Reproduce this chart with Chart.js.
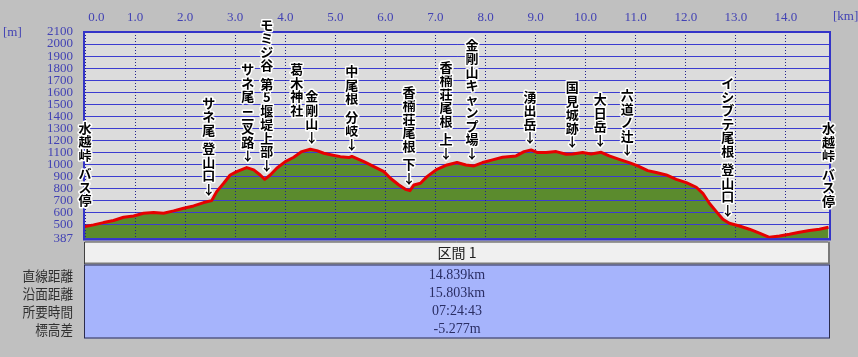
<!DOCTYPE html>
<html><head><meta charset="utf-8">
<script src="https://cdn.jsdelivr.net/npm/chart.js@4"></script>
<style>html,body{margin:0;padding:0;background:#c0c0c0;}canvas{display:block;}</style>
</head><body>
<canvas id="c" width="858" height="357"></canvas>
<script>
// ---- data ----
const distanceKm = [0, 0.17, 0.37, 0.57, 0.77, 0.97, 1.17, 1.37, 1.57, 1.77, 1.97, 2.17, 2.37, 2.53, 2.63, 2.77, 2.9, 3.03, 3.23, 3.37, 3.5, 3.59, 3.7, 3.83, 4.0, 4.17, 4.33, 4.5, 4.63, 4.77, 4.93, 5.1, 5.27, 5.33, 5.57, 5.77, 5.97, 6.1, 6.27, 6.4, 6.49, 6.57, 6.7, 6.83, 7.03, 7.23, 7.43, 7.61, 7.77, 7.94, 8.14, 8.34, 8.61, 8.77, 8.91, 9.04, 9.21, 9.41, 9.61, 9.74, 9.94, 10.11, 10.31, 10.47, 10.67, 10.87, 11.04, 11.24, 11.41, 11.61, 11.81, 12.01, 12.21, 12.34, 12.47, 12.61, 12.74, 12.87, 13.07, 13.27, 13.47, 13.67, 13.87, 14.07, 14.27, 14.47, 14.67, 14.85];
const elevationM = [486, 500, 519, 536, 563, 574, 596, 602, 596, 616, 638, 657, 685, 701, 776, 845, 914, 942, 975, 956, 914, 878, 914, 970, 1025, 1061, 1108, 1127, 1116, 1094, 1080, 1066, 1058, 1068, 1025, 983, 942, 887, 831, 795, 784, 831, 845, 900, 961, 997, 1017, 997, 989, 1017, 1039, 1061, 1072, 1108, 1122, 1100, 1100, 1108, 1086, 1088, 1100, 1088, 1102, 1072, 1044, 1017, 989, 950, 934, 914, 878, 851, 812, 762, 679, 610, 547, 513, 491, 464, 431, 397, 408, 422, 439, 453, 464, 481];
const xTickValues = [0,1,2,3,4,5,6,7,8,9,10,11,12,13,14];
const yTickValues = [387,500,600,700,800,900,1000,1100,1200,1300,1400,1500,1600,1700,1800,1900,2000,2100];
const placeNames = ['水越峠 バス停','サネ尾 登山口↓','サネ尾 二叉路↓','モミジ谷 第5堰堤上部↓','金剛山↓/葛木神社','中尾根 分岐↓','香楠荘尾根 下↓','香楠荘尾根 上↓','金剛山キャンプ場↓','湧出岳↓','国見城跡↓','大日岳↓','六道ノ辻↓','イシブテ尾根 登山口↓','水越峠 バス停'];
const placeKm = [0, 2.47, 3.25, 3.63, 4.53, 5.33, 6.47, 7.21, 7.73, 8.89, 9.73, 10.29, 10.83, 12.84, 14.85];
const sectionTitle = '区間 1';
const statLabels = ['直線距離','沿面距離','所要時間','標高差'];
const statValues = ['14.839km','15.803km','07:24:43','-5.277m'];
const xUnit = '[km]', yUnit = '[m]';

const points = distanceKm.map((k, i) => ({x: k, y: elevationM[i]}));
function elevAt(km) {
  for (let i = 1; i < distanceKm.length; i++) {
    if (km <= distanceKm[i]) {
      const t = (km - distanceKm[i-1]) / (distanceKm[i] - distanceKm[i-1]);
      return elevationM[i-1] + t * (elevationM[i] - elevationM[i-1]);
    }
  }
  return elevationM[elevationM.length - 1];
}

const TICK_COLOR = '#4242b4';
const CJK = '"Noto Sans CJK JP", sans-serif';

const bgPlugin = {
  id: 'bg',
  beforeDraw(chart) {
    const {ctx, chartArea: a} = chart;
    ctx.save();
    ctx.fillStyle = '#dcdcdc';
    ctx.fillRect(a.left, a.top, a.right - a.left, a.bottom - a.top);
    ctx.restore();
  }
};
const gridOverFill = {
  id: 'gridOverFill',
  afterDatasetDraw(chart, args) {
    if (args.index !== 1) return;
    const a = chart.chartArea;
    chart.scales.y.drawGrid(a);
    chart.scales.x.drawGrid(a);
  }
};
const framePlugin = {
  id: 'frame',
  afterDatasetsDraw(chart) {
    const {ctx, chartArea: a} = chart;
    ctx.save();
    ctx.strokeStyle = '#3434c8';
    ctx.lineWidth = 2;
    ctx.strokeRect(a.left - 1, a.top, a.right - a.left + 1, a.bottom - a.top + 1);
    ctx.restore();
  }
};
const PITCH = 13.5, GAP = 5;
const labelPlugin = {
  id: 'placeLabels',
  afterDatasetsDraw(chart) {
    const {ctx} = chart;
    const xs = chart.scales.x, ys = chart.scales.y;
    ctx.save();
    ctx.font = 'bold 13px ' + CJK;
    ctx.textAlign = 'center';
    ctx.textBaseline = 'middle';
    ctx.lineJoin = 'round';
    ctx.lineWidth = 3;
    ctx.strokeStyle = '#ffffff';
    ctx.fillStyle = '#000000';
    placeNames.forEach((name, i) => {
      const km = placeKm[i];
      const x = xs.getPixelForValue(km);
      const yb = ys.getPixelForValue(elevAt(km)) - 6;
      name.split('/').forEach((col, c) => {
        const cx = x - c * 15;
        let y = yb - c * 2 * PITCH;
        if (c === 0 && !col.endsWith('↓')) y -= PITCH;
        const chars = Array.from(col);
        for (let k = chars.length - 1; k >= 0; k--) {
          const ch = chars[k];
          if (ch === ' ') { y -= GAP; continue; }
          const cy = y - PITCH / 2;
          ctx.strokeText(ch, cx, cy);
          ctx.fillText(ch, cx, cy);
          y -= PITCH;
        }
      });
    });
    ctx.restore();
  }
};
const tablePlugin = {
  id: 'table',
  afterDraw(chart) {
    const {ctx, chartArea: a} = chart;
    const L = a.left - 1, R = a.right, W = R - L;
    const top = a.bottom + 3;
    const headH = 23, rowH = 18;
    const blueTop = top + headH;
    const blueH = rowH * statLabels.length + 2;
    ctx.save();
    // units
    ctx.font = '13px "Liberation Serif"';
    ctx.fillStyle = TICK_COLOR;
    ctx.textBaseline = 'middle';
    ctx.textAlign = 'left';
    ctx.fillText(yUnit, 3, a.top + 1);
    ctx.fillText(xUnit, a.right + 3, 17);
    // header
    ctx.fillStyle = '#f0f0f0';
    ctx.fillRect(L, top, W, headH);
    ctx.strokeStyle = '#7a7a7a';
    ctx.lineWidth = 2;
    ctx.beginPath();
    ctx.moveTo(R - 1, top); ctx.lineTo(R - 1, top + headH - 1); ctx.lineTo(L, top + headH - 1);
    ctx.stroke();
    ctx.strokeStyle = '#404040';
    ctx.lineWidth = 1;
    ctx.beginPath();
    ctx.moveTo(L + 0.5, top + headH); ctx.lineTo(L + 0.5, top + 0.5); ctx.lineTo(R - 2, top + 0.5);
    ctx.stroke();
    // blue body
    ctx.fillStyle = '#a6b4fc';
    ctx.fillRect(L, blueTop, W, blueH);
    ctx.strokeStyle = '#2c2c4c';
    ctx.lineWidth = 1;
    ctx.strokeRect(L + 0.5, blueTop + 0.5, W - 1, blueH - 1);
    const cx = (L + R) / 2;
    ctx.textAlign = 'center';
    ctx.fillStyle = '#202020';
    ctx.font = '14px ' + CJK;
    ctx.fillText(sectionTitle, cx, top + headH / 2);
    statLabels.forEach((lab, i) => {
      const y = blueTop + 11 + i * rowH;
      ctx.save();
      ctx.translate(L - 11, y);
      ctx.scale(0.9, 1);
      ctx.textAlign = 'right';
      ctx.fillStyle = '#303030';
      ctx.font = '14px ' + CJK;
      ctx.fillText(lab, 0, 0);
      ctx.restore();
      ctx.fillStyle = '#2a2e64';
      ctx.font = '14px "Liberation Serif"';
      ctx.fillText(statValues[i], cx, y);
    });
    ctx.restore();
  }
};

new Chart(document.getElementById('c'), {
  type: 'line',
  data: {
    datasets: [
      {label: 'profile', data: points, borderColor: '#e60000', borderWidth: 3, pointRadius: 0, fill: false, tension: 0, borderJoinStyle: 'round'},
      {label: 'area', data: points, borderWidth: 0, borderColor: 'rgba(0,0,0,0)', backgroundColor: '#5b8b2d', pointRadius: 0, fill: 'start', tension: 0}
    ]
  },
  options: {
    responsive: false, animation: false, devicePixelRatio: 1,
    layout: {padding: {left: 0, top: 0, right: 28, bottom: 118.5}},
    plugins: {legend: {display: false}, tooltip: {enabled: false}},
    scales: {
      x: {
        type: 'linear', position: 'top', min: 0, max: 14.88,
        afterBuildTicks: s => { s.ticks = xTickValues.map(v => ({value: v})); },
        afterFit: s => { s.height = 32; },
        ticks: {autoSkip: false, maxRotation: 0, padding: 7, color: TICK_COLOR,
          font: {family: '"Liberation Serif"', size: 13},
          callback: v => (v === 0 ? '       ' : '') + Number(v).toFixed(1)},
        grid: {color: '#22228c', lineWidth: 1, drawTicks: false},
        border: {display: false, dash: [1, 2]}
      },
      y: {
        type: 'linear', min: 387, max: 2100,
        afterBuildTicks: s => { s.ticks = yTickValues.map(v => ({value: v})); },
        afterFit: s => { s.width = 85; },
        ticks: {autoSkip: false, padding: 12, color: TICK_COLOR,
          font: {family: '"Liberation Serif"', size: 13},
          callback: v => String(v)},
        grid: {color: '#3c3cd0', lineWidth: 1, drawTicks: false},
        border: {display: false}
      }
    }
  },
  plugins: [bgPlugin, gridOverFill, framePlugin, labelPlugin, tablePlugin]
});
</script>
</body></html>
